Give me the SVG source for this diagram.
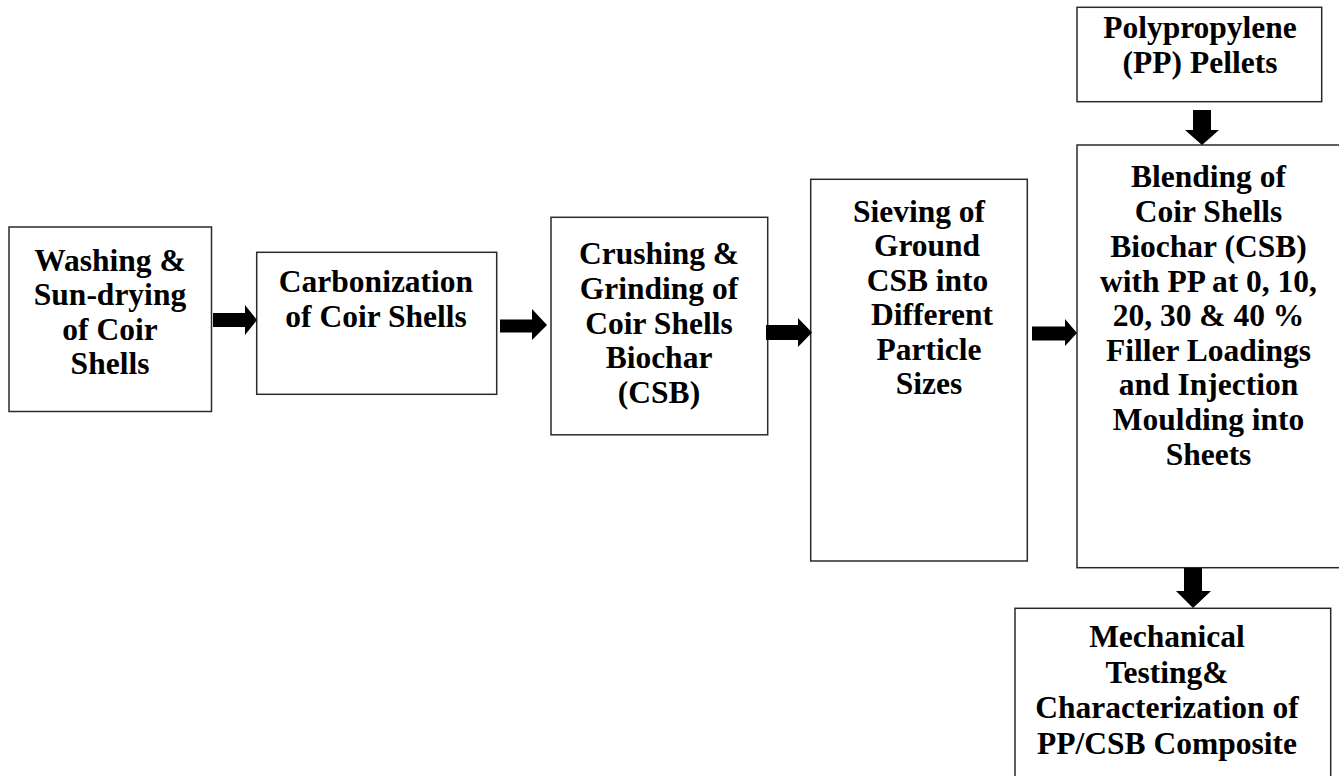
<svg xmlns="http://www.w3.org/2000/svg" width="1339" height="776" viewBox="0 0 1339 776">
<style>
.box{fill:#fff;stroke:#2a2a2a;stroke-width:1.5}
.t{font-weight:bold;font-size:31.5px;fill:#000;text-anchor:middle}
.arr{fill:#000}
</style>
<rect width="1339" height="776" fill="#fff"/>
<g id="n1">
<rect class="box" x="9" y="227" width="202.5" height="184.5"/>
<text class="t" font-family="'Liberation Serif', serif"><tspan x="110" y="270.5">Washing &amp;</tspan><tspan x="110" y="305">Sun-drying</tspan><tspan x="110" y="339.5">of Coir</tspan><tspan x="110" y="374">Shells</tspan></text>
</g>
<g id="n2">
<rect class="box" x="256.7" y="252.3" width="240" height="142"/>
<text class="t" font-family="'Liberation Serif', serif"><tspan x="376" y="291.7">Carbonization</tspan><tspan x="376" y="326.7">of Coir Shells</tspan></text>
</g>
<g id="n3">
<rect class="box" x="551" y="217.3" width="216.7" height="217.5"/>
<text class="t" font-family="'Liberation Serif', serif"><tspan x="659" y="264">Crushing &amp;</tspan><tspan x="659" y="299">Grinding of</tspan><tspan x="659" y="333.5">Coir Shells</tspan><tspan x="659" y="368.3">Biochar</tspan><tspan x="659" y="403.3">(CSB)</tspan></text>
</g>
<g id="n4">
<rect class="box" x="810.7" y="179.3" width="216.6" height="381.7"/>
<text class="t" font-family="'Liberation Serif', serif"><tspan x="919" y="221.7">Sieving of</tspan><tspan x="927" y="256">Ground</tspan><tspan x="927.5" y="290.5">CSB into</tspan><tspan x="932" y="325">Different</tspan><tspan x="929" y="359.5">Particle</tspan><tspan x="929" y="394.3">Sizes</tspan></text>
</g>
<g id="n5">
<rect class="box" x="1077" y="7.3" width="244.7" height="94.4"/>
<text class="t" font-family="'Liberation Serif', serif"><tspan x="1200" y="38.3">Polypropylene</tspan><tspan x="1200" y="73.3">(PP) Pellets</tspan></text>
</g>
<g id="n6">
<rect class="box" x="1077" y="145" width="270" height="422.7"/>
<text class="t" font-family="'Liberation Serif', serif"><tspan x="1208.5" y="186.7">Blending of</tspan><tspan x="1208.5" y="221.7">Coir Shells</tspan><tspan x="1208.5" y="256.7">Biochar (CSB)</tspan><tspan x="1208.5" y="291.7">with PP at 0, 10,</tspan><tspan x="1208.5" y="325.7">20, 30 &amp; 40 %</tspan><tspan x="1208.5" y="360.7">Filler Loadings</tspan><tspan x="1208.5" y="395.3">and Injection</tspan><tspan x="1208.5" y="430">Moulding into</tspan><tspan x="1208.5" y="465">Sheets</tspan></text>
</g>
<g id="n7">
<rect class="box" x="1015" y="608.3" width="315.7" height="200"/>
<text class="t" font-family="'Liberation Serif', serif"><tspan x="1167" y="647.3">Mechanical</tspan><tspan x="1167" y="683.3">Testing&amp;</tspan><tspan x="1167" y="718.3">Characterization of</tspan><tspan x="1167" y="754">PP/CSB Composite</tspan></text>
</g>
<g id="connectors">
<polygon class="arr" points="213,313 245,313 245,305 257,320 245,335 245,327 213,327"/>
<polygon class="arr" points="500,319.5 532,319.5 532,309 547,325 532,340 532,332.5 500,332.5"/>
<polygon class="arr" points="766,325 798,325 798,318 812,332.5 798,347 798,340 766,340"/>
<polygon class="arr" points="1032,326.5 1065,326.5 1065,319 1077,333 1065,346 1065,340.5 1032,340.5"/>
<polygon class="arr" points="1193,110 1211,110 1211,130 1219,130 1202,145 1185,130 1193,130"/>
<polygon class="arr" points="1184,568 1202,568 1202,591 1211,591 1193,608 1176,591 1184,591"/>
</g>
</svg>
